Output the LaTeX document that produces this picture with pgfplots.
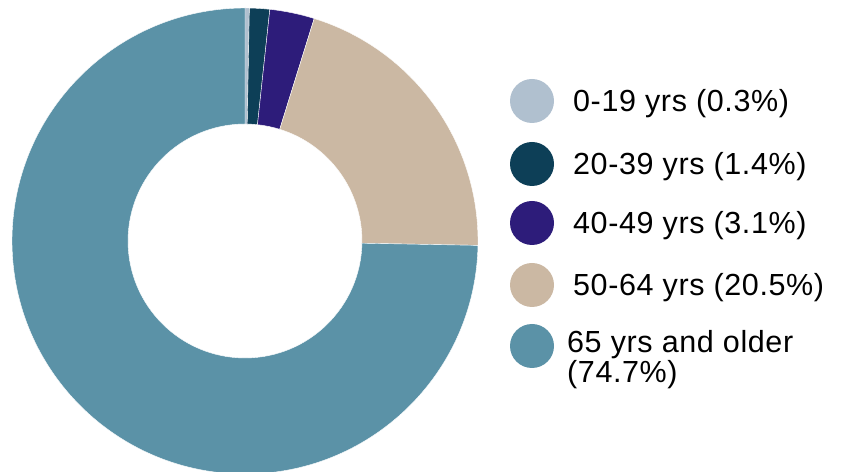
\documentclass[border=0pt]{standalone}
\usepackage{pgfplots}
\usepackage{pgfplotstable}
\pgfplotsset{compat=1.18}
\usepackage{fontspec}
\setmainfont{Liberation Sans}[LetterSpace=2]

\definecolor{age1}{HTML}{B0C0CF}
\definecolor{age2}{HTML}{0D3F57}
\definecolor{age3}{HTML}{2D1C7A}
\definecolor{age4}{HTML}{CBB8A3}
\definecolor{age5}{HTML}{5B92A7}

% share of each age group, in percent
\pgfplotstableread{
pct  col
0.3  age1
1.4  age2
3.1  age3
20.5 age4
74.7 age5
}\agedata

\begin{document}
\begin{tikzpicture}
\begin{axis}[
  width=843bp, height=472bp, scale only axis,
  xmin=0, xmax=843, ymin=0, ymax=472,
  hide axis,
]
\coordinate (C) at (axis cs:245,231);
\pgfplotstablegetrowsof{\agedata}
\pgfmathtruncatemacro\lastrow{\pgfplotsretval-1}
\def\cum{0}
\pgfplotsforeachungrouped \i in {0,...,\lastrow}{
  \pgfplotstablegetelem{\i}{pct}\of\agedata \let\p\pgfplotsretval
  \pgfplotstablegetelem{\i}{col}\of\agedata \let\c\pgfplotsretval
  \pgfmathsetmacro\a{90-3.6*\cum}
  \pgfmathsetmacro\b{90-3.6*(\cum+\p)}
  \edef\temp{\noexpand\fill[\c, draw=white, line width=0.4pt]
    ([shift={(\a:233bp)}]C) arc[start angle=\a, end angle=\b, radius=233bp]
    -- ([shift={(\b:117bp)}]C) arc[start angle=\b, end angle=\a, radius=117bp]
    -- cycle;}
  \temp
  \pgfmathsetmacro\cum{\cum+\p}
}

% legend
\fill[age1] (axis cs:532,371) circle[radius=22bp];
\fill[age2] (axis cs:532,308) circle[radius=22bp];
\fill[age3] (axis cs:532,249) circle[radius=22bp];
\fill[age4] (axis cs:532,187) circle[radius=22bp];
\fill[age5] (axis cs:532,126) circle[radius=22bp];
\begin{scope}[every node/.style={anchor=base west, inner sep=0pt, font=\fontsize{30.5bp}{30bp}\selectfont}]
\node at (axis cs:573,360) {0-19 yrs (0.3\%)};
\node at (axis cs:573,297) {20-39 yrs (1.4\%)};
\node at (axis cs:573,238) {40-49 yrs (3.1\%)};
\node at (axis cs:573,176) {50-64 yrs (20.5\%)};
\node[align=left] at (axis cs:567,89) {65 yrs and older\\(74.7\%)};
\end{scope}
\end{axis}
\pgfresetboundingbox
\path (0,0) rectangle (843bp,472bp);
\end{tikzpicture}
\end{document}
